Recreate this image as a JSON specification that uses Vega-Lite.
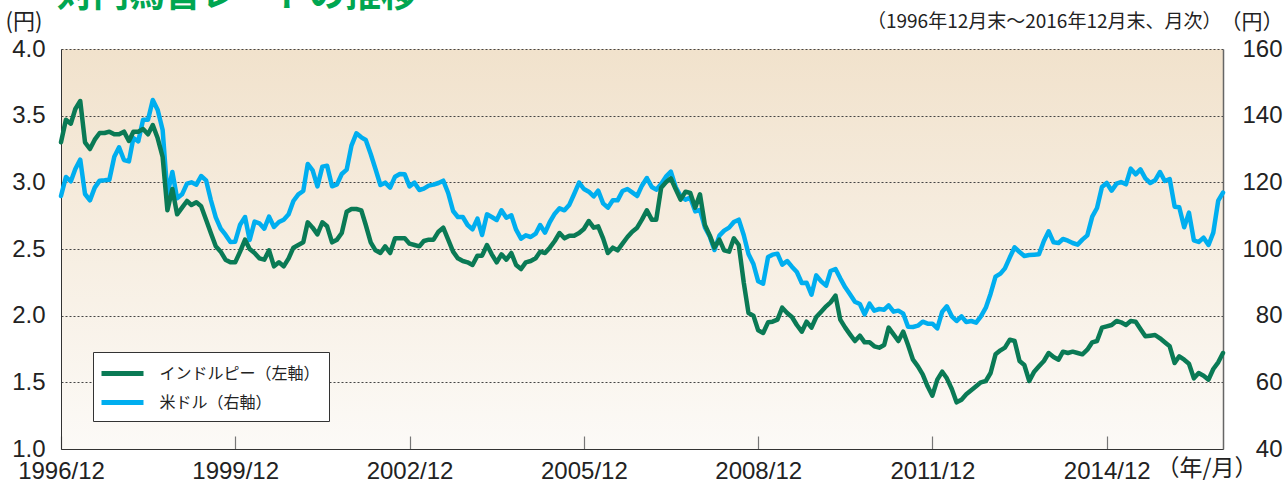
{
"$schema": "https://vega.github.io/schema/vega-lite/v6.json",
"width": 1162, "height": 400,
"autosize": {"type": "none"},
"padding": {"left": 61, "top": 49, "right": 63, "bottom": 33},
"background": "white",
"title": {"text": "対円為替レートの推移", "anchor": "start", "frame": "group", "dx": -4, "offset": -33, "baseline": "alphabetic", "font": "Noto Sans CJK JP", "fontSize": 36, "fontWeight": "bold", "color": "#00a651"},
"data": {"values": [
{"d":"1996-12-01","inr":3.30,"usd":115.9},
{"d":"1997-01-01","inr":3.47,"usd":121.6},{"d":"1997-02-01","inr":3.44,"usd":120.3},{"d":"1997-03-01","inr":3.55,"usd":124.0},{"d":"1997-04-01","inr":3.61,"usd":126.8},{"d":"1997-05-01","inr":3.30,"usd":116.5},{"d":"1997-06-01","inr":3.25,"usd":114.6},{"d":"1997-07-01","inr":3.32,"usd":118.4},{"d":"1997-08-01","inr":3.37,"usd":120.5},{"d":"1997-09-01","inr":3.37,"usd":120.6},{"d":"1997-10-01","inr":3.38,"usd":120.8},{"d":"1997-11-01","inr":3.36,"usd":127.7},{"d":"1997-12-01","inr":3.36,"usd":130.5},
{"d":"1998-01-01","inr":3.38,"usd":126.7},{"d":"1998-02-01","inr":3.31,"usd":126.3},{"d":"1998-03-01","inr":3.38,"usd":133.3},{"d":"1998-04-01","inr":3.38,"usd":132.3},{"d":"1998-05-01","inr":3.40,"usd":138.8},{"d":"1998-06-01","inr":3.36,"usd":138.8},{"d":"1998-07-01","inr":3.43,"usd":144.7},{"d":"1998-08-01","inr":3.33,"usd":141.7},{"d":"1998-09-01","inr":3.19,"usd":135.7},{"d":"1998-10-01","inr":2.79,"usd":116.4},{"d":"1998-11-01","inr":2.95,"usd":123.1},{"d":"1998-12-01","inr":2.76,"usd":115.2},
{"d":"1999-01-01","inr":2.81,"usd":116.4},{"d":"1999-02-01","inr":2.86,"usd":119.6},{"d":"1999-03-01","inr":2.83,"usd":120.0},{"d":"1999-04-01","inr":2.85,"usd":119.3},{"d":"1999-05-01","inr":2.82,"usd":121.9},{"d":"1999-06-01","inr":2.72,"usd":120.6},{"d":"1999-07-01","inr":2.62,"usd":114.7},{"d":"1999-08-01","inr":2.52,"usd":109.5},{"d":"1999-09-01","inr":2.48,"usd":106.1},{"d":"1999-10-01","inr":2.42,"usd":104.3},{"d":"1999-11-01","inr":2.40,"usd":102.1},{"d":"1999-12-01","inr":2.40,"usd":102.2},
{"d":"2000-01-01","inr":2.48,"usd":107.3},{"d":"2000-02-01","inr":2.57,"usd":109.6},{"d":"2000-03-01","inr":2.50,"usd":102.7},{"d":"2000-04-01","inr":2.47,"usd":108.2},{"d":"2000-05-01","inr":2.43,"usd":107.7},{"d":"2000-06-01","inr":2.42,"usd":106.1},{"d":"2000-07-01","inr":2.49,"usd":109.7},{"d":"2000-08-01","inr":2.37,"usd":106.6},{"d":"2000-09-01","inr":2.40,"usd":108.1},{"d":"2000-10-01","inr":2.37,"usd":108.8},{"d":"2000-11-01","inr":2.43,"usd":110.4},{"d":"2000-12-01","inr":2.51,"usd":114.4},
{"d":"2001-01-01","inr":2.53,"usd":116.4},{"d":"2001-02-01","inr":2.55,"usd":117.4},{"d":"2001-03-01","inr":2.70,"usd":125.5},{"d":"2001-04-01","inr":2.66,"usd":123.6},{"d":"2001-05-01","inr":2.61,"usd":118.8},{"d":"2001-06-01","inr":2.70,"usd":124.7},{"d":"2001-07-01","inr":2.67,"usd":125.0},{"d":"2001-08-01","inr":2.55,"usd":118.8},{"d":"2001-09-01","inr":2.57,"usd":119.4},{"d":"2001-10-01","inr":2.62,"usd":122.5},{"d":"2001-11-01","inr":2.78,"usd":123.8},{"d":"2001-12-01","inr":2.80,"usd":131.0},
{"d":"2002-01-01","inr":2.80,"usd":134.7},{"d":"2002-02-01","inr":2.79,"usd":133.5},{"d":"2002-03-01","inr":2.68,"usd":132.7},{"d":"2002-04-01","inr":2.55,"usd":128.5},{"d":"2002-05-01","inr":2.49,"usd":124.0},{"d":"2002-06-01","inr":2.47,"usd":119.2},{"d":"2002-07-01","inr":2.52,"usd":119.9},{"d":"2002-08-01","inr":2.47,"usd":118.4},{"d":"2002-09-01","inr":2.58,"usd":121.7},{"d":"2002-10-01","inr":2.58,"usd":122.5},{"d":"2002-11-01","inr":2.58,"usd":122.4},{"d":"2002-12-01","inr":2.54,"usd":118.8},
{"d":"2003-01-01","inr":2.53,"usd":119.9},{"d":"2003-02-01","inr":2.52,"usd":117.7},{"d":"2003-03-01","inr":2.56,"usd":118.1},{"d":"2003-04-01","inr":2.57,"usd":119.0},{"d":"2003-05-01","inr":2.57,"usd":119.3},{"d":"2003-06-01","inr":2.63,"usd":119.8},{"d":"2003-07-01","inr":2.66,"usd":120.5},{"d":"2003-08-01","inr":2.57,"usd":116.8},{"d":"2003-09-01","inr":2.48,"usd":111.4},{"d":"2003-10-01","inr":2.43,"usd":109.6},{"d":"2003-11-01","inr":2.41,"usd":109.6},{"d":"2003-12-01","inr":2.40,"usd":107.2},
{"d":"2004-01-01","inr":2.38,"usd":105.9},{"d":"2004-02-01","inr":2.45,"usd":109.1},{"d":"2004-03-01","inr":2.45,"usd":104.2},{"d":"2004-04-01","inr":2.53,"usd":110.4},{"d":"2004-05-01","inr":2.46,"usd":109.6},{"d":"2004-06-01","inr":2.40,"usd":108.7},{"d":"2004-07-01","inr":2.46,"usd":111.6},{"d":"2004-08-01","inr":2.42,"usd":109.4},{"d":"2004-09-01","inr":2.47,"usd":110.1},{"d":"2004-10-01","inr":2.38,"usd":105.8},{"d":"2004-11-01","inr":2.35,"usd":103.1},{"d":"2004-12-01","inr":2.40,"usd":104.1},
{"d":"2005-01-01","inr":2.41,"usd":103.6},{"d":"2005-02-01","inr":2.43,"usd":104.6},{"d":"2005-03-01","inr":2.48,"usd":107.2},{"d":"2005-04-01","inr":2.47,"usd":104.9},{"d":"2005-05-01","inr":2.51,"usd":108.1},{"d":"2005-06-01","inr":2.56,"usd":110.6},{"d":"2005-07-01","inr":2.62,"usd":112.2},{"d":"2005-08-01","inr":2.58,"usd":111.6},{"d":"2005-09-01","inr":2.60,"usd":113.3},{"d":"2005-10-01","inr":2.60,"usd":116.5},{"d":"2005-11-01","inr":2.62,"usd":119.9},{"d":"2005-12-01","inr":2.65,"usd":118.0},
{"d":"2006-01-01","inr":2.71,"usd":117.2},{"d":"2006-02-01","inr":2.66,"usd":115.8},{"d":"2006-03-01","inr":2.67,"usd":117.5},{"d":"2006-04-01","inr":2.58,"usd":113.7},{"d":"2006-05-01","inr":2.47,"usd":112.4},{"d":"2006-06-01","inr":2.51,"usd":114.6},{"d":"2006-07-01","inr":2.49,"usd":114.6},{"d":"2006-08-01","inr":2.54,"usd":117.4},{"d":"2006-09-01","inr":2.59,"usd":118.0},{"d":"2006-10-01","inr":2.63,"usd":117.0},{"d":"2006-11-01","inr":2.66,"usd":115.9},{"d":"2006-12-01","inr":2.72,"usd":119.0},
{"d":"2007-01-01","inr":2.79,"usd":121.3},{"d":"2007-02-01","inr":2.72,"usd":118.6},{"d":"2007-03-01","inr":2.72,"usd":117.8},{"d":"2007-04-01","inr":2.96,"usd":119.5},{"d":"2007-05-01","inr":3.00,"usd":121.7},{"d":"2007-06-01","inr":3.03,"usd":123.2},{"d":"2007-07-01","inr":2.95,"usd":118.6},{"d":"2007-08-01","inr":2.87,"usd":115.9},{"d":"2007-09-01","inr":2.93,"usd":114.8},{"d":"2007-10-01","inr":2.92,"usd":115.4},{"d":"2007-11-01","inr":2.81,"usd":111.3},{"d":"2007-12-01","inr":2.91,"usd":111.7},
{"d":"2008-01-01","inr":2.68,"usd":106.5},{"d":"2008-02-01","inr":2.60,"usd":103.7},{"d":"2008-03-01","inr":2.51,"usd":99.7},{"d":"2008-04-01","inr":2.57,"usd":104.0},{"d":"2008-05-01","inr":2.49,"usd":105.5},{"d":"2008-06-01","inr":2.48,"usd":106.4},{"d":"2008-07-01","inr":2.58,"usd":108.1},{"d":"2008-08-01","inr":2.53,"usd":108.8},{"d":"2008-09-01","inr":2.25,"usd":104.2},{"d":"2008-10-01","inr":2.02,"usd":98.5},{"d":"2008-11-01","inr":2.00,"usd":95.5},{"d":"2008-12-01","inr":1.89,"usd":90.3},
{"d":"2009-01-01","inr":1.87,"usd":89.6},{"d":"2009-02-01","inr":1.95,"usd":97.6},{"d":"2009-03-01","inr":1.955,"usd":98.3},{"d":"2009-04-01","inr":1.97,"usd":98.6},{"d":"2009-05-01","inr":2.06,"usd":95.3},{"d":"2009-06-01","inr":2.02,"usd":96.4},{"d":"2009-07-01","inr":1.99,"usd":94.7},{"d":"2009-08-01","inr":1.93,"usd":93.1},{"d":"2009-09-01","inr":1.88,"usd":89.8},{"d":"2009-10-01","inr":1.955,"usd":89.9},{"d":"2009-11-01","inr":1.91,"usd":86.3},{"d":"2009-12-01","inr":1.99,"usd":92.1},
{"d":"2010-01-01","inr":2.03,"usd":90.3},{"d":"2010-02-01","inr":2.07,"usd":89.0},{"d":"2010-03-01","inr":2.10,"usd":93.4},{"d":"2010-04-01","inr":2.15,"usd":94.0},{"d":"2010-05-01","inr":1.97,"usd":91.2},{"d":"2010-06-01","inr":1.91,"usd":88.5},{"d":"2010-07-01","inr":1.86,"usd":86.4},{"d":"2010-08-01","inr":1.81,"usd":84.2},{"d":"2010-09-01","inr":1.85,"usd":83.5},{"d":"2010-10-01","inr":1.80,"usd":80.4},{"d":"2010-11-01","inr":1.80,"usd":83.6},{"d":"2010-12-01","inr":1.77,"usd":81.5},
{"d":"2011-01-01","inr":1.76,"usd":82.0},{"d":"2011-02-01","inr":1.78,"usd":81.8},{"d":"2011-03-01","inr":1.91,"usd":83.1},{"d":"2011-04-01","inr":1.86,"usd":81.2},{"d":"2011-05-01","inr":1.81,"usd":81.5},{"d":"2011-06-01","inr":1.88,"usd":80.6},{"d":"2011-07-01","inr":1.78,"usd":76.7},{"d":"2011-08-01","inr":1.67,"usd":76.6},{"d":"2011-09-01","inr":1.62,"usd":77.0},{"d":"2011-10-01","inr":1.56,"usd":78.2},{"d":"2011-11-01","inr":1.47,"usd":77.6},{"d":"2011-12-01","inr":1.40,"usd":77.6},
{"d":"2012-01-01","inr":1.52,"usd":76.2},{"d":"2012-02-01","inr":1.58,"usd":81.2},{"d":"2012-03-01","inr":1.53,"usd":82.8},{"d":"2012-04-01","inr":1.45,"usd":79.8},{"d":"2012-05-01","inr":1.35,"usd":78.4},{"d":"2012-06-01","inr":1.37,"usd":79.8},{"d":"2012-07-01","inr":1.41,"usd":78.1},{"d":"2012-08-01","inr":1.44,"usd":78.4},{"d":"2012-09-01","inr":1.47,"usd":77.9},{"d":"2012-10-01","inr":1.50,"usd":79.8},{"d":"2012-11-01","inr":1.51,"usd":82.4},{"d":"2012-12-01","inr":1.57,"usd":86.6},
{"d":"2013-01-01","inr":1.71,"usd":91.7},{"d":"2013-02-01","inr":1.74,"usd":92.6},{"d":"2013-03-01","inr":1.76,"usd":94.2},{"d":"2013-04-01","inr":1.82,"usd":97.5},{"d":"2013-05-01","inr":1.81,"usd":100.5},{"d":"2013-06-01","inr":1.66,"usd":99.1},{"d":"2013-07-01","inr":1.63,"usd":97.9},{"d":"2013-08-01","inr":1.51,"usd":98.2},{"d":"2013-09-01","inr":1.58,"usd":98.3},{"d":"2013-10-01","inr":1.62,"usd":98.4},{"d":"2013-11-01","inr":1.66,"usd":102.4},{"d":"2013-12-01","inr":1.72,"usd":105.3},
{"d":"2014-01-01","inr":1.69,"usd":102.0},{"d":"2014-02-01","inr":1.67,"usd":101.8},{"d":"2014-03-01","inr":1.73,"usd":103.0},{"d":"2014-04-01","inr":1.72,"usd":102.5},{"d":"2014-05-01","inr":1.73,"usd":101.8},{"d":"2014-06-01","inr":1.72,"usd":101.3},{"d":"2014-07-01","inr":1.71,"usd":102.8},{"d":"2014-08-01","inr":1.745,"usd":104.1},{"d":"2014-09-01","inr":1.80,"usd":109.7},{"d":"2014-10-01","inr":1.81,"usd":112.3},{"d":"2014-11-01","inr":1.91,"usd":118.6},{"d":"2014-12-01","inr":1.92,"usd":119.8},
{"d":"2015-01-01","inr":1.93,"usd":117.5},{"d":"2015-02-01","inr":1.96,"usd":119.6},{"d":"2015-03-01","inr":1.95,"usd":120.1},{"d":"2015-04-01","inr":1.93,"usd":119.4},{"d":"2015-05-01","inr":1.96,"usd":124.1},{"d":"2015-06-01","inr":1.955,"usd":122.4},{"d":"2015-07-01","inr":1.90,"usd":123.9},{"d":"2015-08-01","inr":1.845,"usd":121.2},{"d":"2015-09-01","inr":1.85,"usd":119.8},{"d":"2015-10-01","inr":1.855,"usd":120.6},{"d":"2015-11-01","inr":1.83,"usd":123.1},{"d":"2015-12-01","inr":1.80,"usd":120.4},
{"d":"2016-01-01","inr":1.77,"usd":121.0},{"d":"2016-02-01","inr":1.645,"usd":112.7},{"d":"2016-03-01","inr":1.695,"usd":112.5},{"d":"2016-04-01","inr":1.67,"usd":106.5},{"d":"2016-05-01","inr":1.64,"usd":110.9},{"d":"2016-06-01","inr":1.53,"usd":102.6},{"d":"2016-07-01","inr":1.57,"usd":102.1},{"d":"2016-08-01","inr":1.55,"usd":103.4},{"d":"2016-09-01","inr":1.52,"usd":101.2},{"d":"2016-10-01","inr":1.60,"usd":104.9},{"d":"2016-11-01","inr":1.65,"usd":114.5},{"d":"2016-12-01","inr":1.72,"usd":116.9}
]},
"layer": [
{
"mark": {"type": "line", "strokeWidth": 4.5, "strokeJoin": "round", "strokeCap": "round"},
"encoding": {
"x": {"field": "d", "type": "temporal",
"scale": {"type": "utc", "nice": false, "domain": [{"year": 1996, "month": 12, "date": 1, "utc": true}, {"year": 2016, "month": 12, "date": 1, "utc": true}]},
"axis": {"orient": "top", "labels": false, "ticks": false, "domain": false, "grid": false,
"title": "（1996年12月末～2016年12月末、月次）", "titleX": 1160, "titleY": -22, "titleAlign": "right", "titleAnchor": null, "titleBaseline": "alphabetic", "titleFont": "Noto Sans CJK JP", "titleFontSize": 19, "titleFontWeight": "normal", "titleColor": "#222"}},
"y": {"field": "usd", "type": "quantitative", "scale": {"domain": [40, 160], "nice": false, "zero": false},
"axis": {"orient": "right", "values": [40, 60, 80, 100, 120, 140, 160], "format": "d", "grid": false, "ticks": false, "tickSize": 0,
"labelAlign": "right", "labelBaseline": "middle", "labelPadding": 59, "labelFont": "Liberation Sans", "labelFontSize": 24, "labelColor": "#222", "labelOverlap": false, "labelFlush": false,
"domainColor": "#666", "domainWidth": 1.5,
"title": "（円）", "titleAngle": 0, "titleX": 60, "titleY": -21, "titleAlign": "right", "titleAnchor": null, "titleBaseline": "alphabetic", "titleFont": "Noto Sans CJK JP", "titleFontSize": 21, "titleFontWeight": "normal", "titleColor": "#222"}},
"color": {"datum": "米ドル（右軸）", "type": "nominal"}
}
},
{
"mark": {"type": "line", "strokeWidth": 4.5, "strokeJoin": "round", "strokeCap": "round"},
"encoding": {
"x": {"field": "d", "type": "temporal",
"axis": {"orient": "bottom", "format": "%Y/%m", "grid": false,
"values": [{"year": 1996, "month": 12, "date": 1, "utc": true}, {"year": 1999, "month": 12, "date": 1, "utc": true}, {"year": 2002, "month": 12, "date": 1, "utc": true}, {"year": 2005, "month": 12, "date": 1, "utc": true}, {"year": 2008, "month": 12, "date": 1, "utc": true}, {"year": 2011, "month": 12, "date": 1, "utc": true}, {"year": 2014, "month": 12, "date": 1, "utc": true}],
"labelFont": "Liberation Sans", "labelFontSize": 24, "labelColor": "#222", "labelFlush": false, "labelOverlap": false, "labelPadding": 23, "labelBaseline": "top",
"tickSize": -13, "tickColor": "#777", "tickWidth": 1.2, "domainColor": "#333", "domainWidth": 1,
"title": "（年/月）", "titleX": 1095, "titleY": 26, "titleAlign": "left", "titleAnchor": null, "titleBaseline": "alphabetic", "titleFont": "Noto Sans CJK JP", "titleFontSize": 23, "titleFontWeight": "normal", "titleColor": "#222"}},
"y": {"field": "inr", "type": "quantitative", "scale": {"domain": [1, 4], "nice": false, "zero": false},
"axis": {"orient": "left", "values": [1, 1.5, 2, 2.5, 3, 3.5, 4], "format": ".1f", "grid": true, "gridDash": [2, 2], "gridColor": "#444", "gridWidth": 1, "ticks": false, "tickSize": 0,
"labelPadding": 16, "labelBaseline": "middle", "labelFont": "Liberation Sans", "labelFontSize": 24, "labelColor": "#222", "labelOverlap": false, "labelFlush": false,
"domainColor": "#333", "domainWidth": 1,
"title": "(円)", "titleAngle": 0, "titleX": -56, "titleY": -21, "titleAlign": "left", "titleAnchor": null, "titleBaseline": "alphabetic", "titleFont": "Noto Sans CJK JP", "titleFontSize": 22, "titleFontWeight": "normal", "titleColor": "#222"}},
"color": {"datum": "インドルピー（左軸）", "type": "nominal",
"scale": {"domain": ["インドルピー（左軸）", "米ドル（右軸）"], "range": ["#0a7a55", "#00aeef"]},
"legend": {"orient": "none", "legendX": 32, "legendY": 303, "title": null, "direction": "vertical", "fillColor": "white", "strokeColor": "#333", "padding": 8.5,
"symbolType": "M-2,0H2", "symbolSize": 441, "symbolStrokeWidth": 5, "symbolOffset": 8, "labelOffset": 24, "rowPadding": 6,
"labelFont": "Noto Sans CJK JP", "labelFontSize": 16, "labelColor": "#222", "labelLimit": 400}}
}
}
],
"resolve": {"scale": {"y": "independent"}, "axis": {"x": "independent"}},
"config": {
"font": "Noto Sans CJK JP",
"view": {"stroke": null, "fill": {"gradient": "linear", "x1": 0, "y1": 0, "x2": 0, "y2": 1, "stops": [{"offset": 0, "color": "#f1e2cc"}, {"offset": 1, "color": "#fcfaf7"}]}}
}
}
